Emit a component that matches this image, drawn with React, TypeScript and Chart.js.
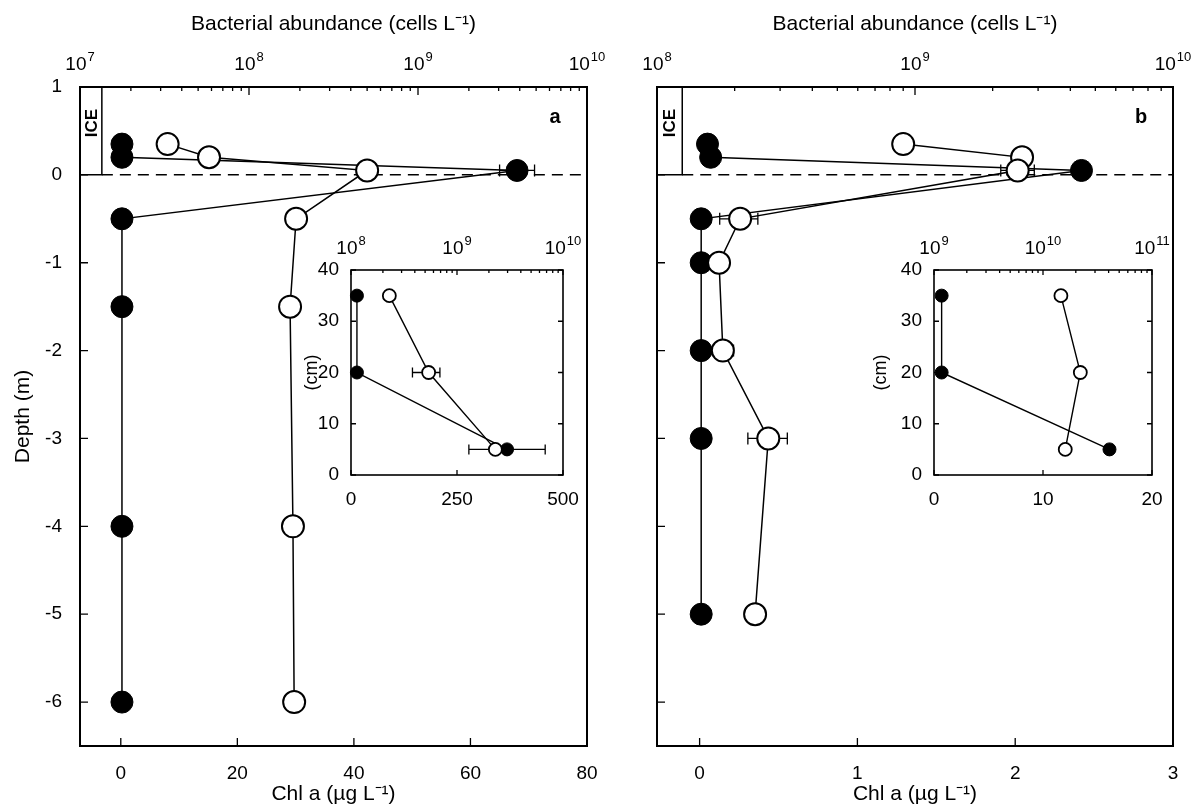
import React, { useEffect, useRef } from 'react';
import { Chart, registerables } from 'chart.js';
Chart.register(...registerables);

const FONT = '"Liberation Sans", Arial, Helvetica, sans-serif';

// ---------- Panel a (main) ----------
const A_CHL_DEPTH = [0.35, 0.2, 0.05, -0.5, -1.5, -4, -6];
const A_CHL = [0.2, 0.2, 68, 0.2, 0.2, 0.2, 0.2];
const A_CHL_LO = [null, null, 65, null, null, null, null];
const A_CHL_HI = [null, null, 71, null, null, null, null];
const A_BACT_DEPTH = [0.35, 0.2, 0.05, -0.5, -1.5, -4, -6];
const A_BACT = [3.3e7, 5.8e7, 5.0e8, 1.9e8, 1.75e8, 1.82e8, 1.85e8];
const A_BACT_LO = [null, null, null, null, null, null, null];
const A_BACT_HI = [null, null, null, null, null, null, null];
const A_CHL_RANGE = [-7, 80];
const A_CHL_TICKS = [0, 20, 40, 60, 80];
const A_BACT_RANGE = [1e7, 1e10];
const A_ICE_EDGE = -3.25;

// ---------- Panel b (main) ----------
const B_CHL_DEPTH = [0.35, 0.2, 0.05, -0.5, -1, -2, -3, -5];
const B_CHL = [0.05, 0.07, 2.42, 0.01, 0.01, 0.01, 0.01, 0.01];
const B_CHL_LO = [null, null, null, null, null, null, null, null];
const B_CHL_HI = [null, null, null, null, null, null, null, null];
const B_BACT_DEPTH = [0.35, 0.2, 0.05, -0.5, -1, -2, -3, -5];
const B_BACT = [9.0e8, 2.6e9, 2.5e9, 2.1e8, 1.74e8, 1.8e8, 2.7e8, 2.4e8];
const B_BACT_LO = [null, null, 2.15e9, 1.75e8, null, 1.65e8, 2.25e8, null];
const B_BACT_HI = [null, null, 2.9e9, 2.46e8, null, 1.98e8, 3.2e8, null];
const B_CHL_RANGE = [-0.27, 3];
const B_CHL_TICKS = [0, 1, 2, 3];
const B_BACT_RANGE = [1e8, 1e10];
const B_ICE_EDGE = -0.11;

// ---------- Shared depth axis ----------
const DEPTH_RANGE = [-6.5, 1];
const DEPTH_TICKS = [1, 0, -1, -2, -3, -4, -5, -6];

// ---------- Inset a (ice core, cm) ----------
const IA_DEPTH = [35, 20, 5];
const IA_CHL = [14, 14, 368];
const IA_CHL_LO = [null, null, 278];
const IA_CHL_HI = [null, null, 458];
const IA_BACT = [2.3e8, 5.4e8, 2.3e9];
const IA_BACT_LO = [2.1e8, 3.8e8, 2.15e9];
const IA_BACT_HI = [2.5e8, 6.9e8, 2.5e9];
const IA_CHL_RANGE = [0, 500];
const IA_CHL_TICKS = [0, 250, 500];
const IA_BACT_RANGE = [1e8, 1e10];

// ---------- Inset b (ice core, cm) ----------
const IB_DEPTH = [35, 20, 5];
const IB_CHL = [0.7, 0.7, 16.1];
const IB_BACT = [1.46e10, 2.2e10, 1.6e10];
const IB_NONE = [null, null, null];
const IB_CHL_RANGE = [0, 20];
const IB_CHL_TICKS = [0, 10, 20];
const IB_BACT_RANGE = [1e9, 1e11];

const INSET_DEPTH_RANGE = [0, 40];
const INSET_DEPTH_TICKS = [0, 10, 20, 30, 40];

const isPow10 = (v: number) => Math.abs(Math.log10(v) - Math.round(Math.log10(v))) < 1e-9;
const logTicks = (min: number, max: number) => {
  const out: number[] = [];
  const e0 = Math.round(Math.log10(min));
  const e1 = Math.round(Math.log10(max));
  for (let e = e0; e < e1; e++) for (let m = 1; m < 10; m++) out.push(m * Math.pow(10, e));
  out.push(max);
  return out;
};

interface Cfg {
  chlDepth: number[]; chl: number[]; chlLo: (number | null)[]; chlHi: (number | null)[];
  bactDepth: number[]; bact: number[]; bactLo: (number | null)[]; bactHi: (number | null)[];
  chlRange: number[]; chlTicks: number[]; bactRange: number[];
  depthRange: number[]; depthTicks: number[];
  yWidth: number; topH: number; bottomH: number; padRight: number;
  showYLabels: boolean; yTitle: string; xTitle: string; x2Title: string;
  tickFont: number; titleFont: number;
  yLabelPad: number; xLabelPad: number; x2Baseline: number;
  yTitlePad: number; xTitlePad: number; x2TitlePad: number;
  radius: number; ptBorder: number; lineW: number; majLen: number; minLen: number; capH: number;
  frameW: number; mirrorY: boolean; inset: boolean; ice: number | null; letter: string;
}

function buildChart(canvas: HTMLCanvasElement, c: Cfg) {
  const mk = (depth: number[], vals: number[]) => vals.map((v, i) => ({ x: v, y: depth[i] }));
  const chlPts = mk(c.chlDepth, c.chl);
  const bactPts = mk(c.bactDepth, c.bact);
  const datasets: any[] = [
    { data: bactPts, xAxisID: 'x2', yAxisID: 'y', showLine: false, pointRadius: c.radius,
      pointHoverRadius: c.radius, pointBackgroundColor: '#fff', pointBorderColor: '#000',
      pointBorderWidth: c.ptBorder, clip: false },
    { data: chlPts, xAxisID: 'x', yAxisID: 'y', showLine: false, pointRadius: c.radius,
      pointHoverRadius: c.radius, pointBackgroundColor: '#000', pointBorderColor: '#000',
      pointBorderWidth: 1, clip: false },
    { data: bactPts, xAxisID: 'x2', yAxisID: 'y', showLine: true, pointRadius: 0,
      borderColor: '#000', borderWidth: c.lineW, tension: 0 },
    { data: chlPts, xAxisID: 'x', yAxisID: 'y', showLine: true, pointRadius: 0,
      borderColor: '#000', borderWidth: c.lineW, tension: 0 },
  ];
  if (c.ice !== null) {
    datasets.push({ data: [{ x: c.ice, y: 0 }, { x: c.chlRange[1], y: 0 }], xAxisID: 'x', yAxisID: 'y',
      showLine: true, pointRadius: 0, borderColor: '#000', borderWidth: 1.5, borderDash: [11, 7] });
    datasets.push({ data: [{ x: c.chlRange[0], y: 0 }, { x: c.ice, y: 0 }, { x: c.ice, y: c.depthRange[1] }],
      xAxisID: 'x', yAxisID: 'y', showLine: true, pointRadius: 0, borderColor: '#000', borderWidth: 1.5 });
  }

  const decoPlugin = {
    id: 'deco',
    beforeDatasetsDraw(chart: any) {
      const ctx = chart.ctx;
      const { left, right, top, bottom } = chart.chartArea;
      ctx.save();
      if (c.inset) {
        ctx.fillStyle = '#fff';
        ctx.fillRect(left, top, right - left, bottom - top);
      }
      ctx.strokeStyle = '#000';
      ctx.lineWidth = 1.3;
      const ys = chart.scales.y;
      const drawSet = (axis: string, depth: number[], lo: (number | null)[], hi: (number | null)[]) => {
        const xs = chart.scales[axis];
        lo.forEach((l, i) => {
          const h = hi[i];
          if (l == null || h == null) return;
          const py = ys.getPixelForValue(depth[i]);
          const a = xs.getPixelForValue(l);
          const b = xs.getPixelForValue(h);
          ctx.beginPath();
          ctx.moveTo(a, py); ctx.lineTo(b, py);
          ctx.moveTo(a, py - c.capH); ctx.lineTo(a, py + c.capH);
          ctx.moveTo(b, py - c.capH); ctx.lineTo(b, py + c.capH);
          ctx.stroke();
        });
      };
      drawSet('x', c.chlDepth, c.chlLo, c.chlHi);
      drawSet('x2', c.bactDepth, c.bactLo, c.bactHi);
      ctx.restore();
    },
    afterDraw(chart: any) {
      const ctx = chart.ctx;
      const { left, right, top, bottom } = chart.chartArea;
      const tx = chart.scales.x, tx2 = chart.scales.x2, ty = chart.scales.y;
      ctx.save();
      ctx.strokeStyle = '#000';
      ctx.lineWidth = c.frameW;
      ctx.strokeRect(left, top, right - left, bottom - top);
      ctx.lineWidth = 1.3;
      ctx.beginPath();
      tx.ticks.forEach((t: any) => {
        const p = tx.getPixelForValue(t.value);
        ctx.moveTo(p, bottom); ctx.lineTo(p, bottom - c.majLen);
      });
      tx2.ticks.forEach((t: any) => {
        const p = tx2.getPixelForValue(t.value);
        const len = isPow10(t.value) ? c.majLen : c.minLen;
        ctx.moveTo(p, top); ctx.lineTo(p, top + len);
      });
      ty.ticks.forEach((t: any) => {
        const p = ty.getPixelForValue(t.value);
        ctx.moveTo(left, p); ctx.lineTo(left + c.majLen, p);
        if (c.mirrorY) { ctx.moveTo(right, p); ctx.lineTo(right - c.majLen, p); }
      });
      ctx.stroke();
      ctx.fillStyle = '#000';
      // power-of-ten labels of the top (log) axis: "10" with a raised exponent
      const baseFont = `${c.tickFont}px ${FONT}`;
      const supSize = Math.round(c.tickFont * 0.68);
      const supFont = `${supSize}px ${FONT}`;
      ctx.textBaseline = 'alphabetic';
      ctx.textAlign = 'left';
      tx2.ticks.forEach((t: any) => {
        if (!isPow10(t.value)) return;
        const p = tx2.getPixelForValue(t.value);
        const exp = String(Math.round(Math.log10(t.value)));
        ctx.font = baseFont;
        const w1 = ctx.measureText('10').width;
        ctx.font = supFont;
        const w2 = ctx.measureText(exp).width;
        const x0 = p - (w1 + w2 + 1) / 2;
        const yb = top - c.x2Baseline;
        ctx.font = baseFont;
        ctx.fillText('10', x0, yb);
        ctx.font = supFont;
        ctx.fillText(exp, x0 + w1 + 1, yb - c.tickFont * 0.45);
      });
      if (c.ice !== null) {
        const ix = tx.getPixelForValue(c.ice);
        ctx.save();
        ctx.translate((left + ix) / 2 + 1, top + 36);
        ctx.rotate(-Math.PI / 2);
        ctx.font = `bold 17px ${FONT}`;
        ctx.textAlign = 'center';
        ctx.textBaseline = 'middle';
        ctx.fillText('ICE', 0, 0);
        ctx.restore();
      }
      if (c.letter) {
        ctx.font = `bold 20px ${FONT}`;
        ctx.textAlign = 'center';
        ctx.textBaseline = 'middle';
        ctx.fillText(c.letter, right - 32, top + 30);
      }
      ctx.restore();
    },
  };

  const tickFont = { family: FONT, size: c.tickFont };
  const titleFont = { family: FONT, size: c.titleFont };
  const noPad = (s: any) => { s.paddingLeft = 0; s.paddingRight = 0; s.paddingTop = 0; s.paddingBottom = 0; };

  return new Chart(canvas, {
    type: 'scatter',
    data: { datasets },
    plugins: [decoPlugin],
    options: {
      animation: false,
      responsive: false,
      devicePixelRatio: 1,
      events: [],
      layout: { padding: { left: 0, top: 0, bottom: 0, right: c.padRight } },
      plugins: { legend: { display: false }, tooltip: { enabled: false } },
      scales: {
        x: {
          type: 'linear', position: 'bottom', min: c.chlRange[0], max: c.chlRange[1],
          afterBuildTicks: (s: any) => { s.ticks = c.chlTicks.map((v) => ({ value: v })); },
          afterFit: (s: any) => { s.height = c.bottomH; noPad(s); },
          grid: { display: false, drawTicks: false },
          border: { display: false },
          ticks: { font: tickFont, color: '#000', padding: c.xLabelPad, maxRotation: 0, autoSkip: false,
            callback: (v: any) => String(v) },
          title: { display: !!c.xTitle, text: c.xTitle, font: titleFont, color: '#000',
            padding: { top: 0, bottom: c.xTitlePad } },
        },
        x2: {
          type: 'logarithmic', position: 'top', min: c.bactRange[0], max: c.bactRange[1],
          afterBuildTicks: (s: any) => { s.ticks = logTicks(c.bactRange[0], c.bactRange[1]).map((v) => ({ value: v })); },
          afterFit: (s: any) => { s.height = c.topH; noPad(s); },
          grid: { display: false, drawTicks: false },
          border: { display: false },
          ticks: { font: tickFont, color: '#000', padding: 10, maxRotation: 0, autoSkip: false,
            callback: () => '' },
          title: { display: !!c.x2Title, text: c.x2Title, font: titleFont, color: '#000',
            padding: { top: c.x2TitlePad, bottom: 0 } },
        },
        y: {
          type: 'linear', position: 'left', min: c.depthRange[0], max: c.depthRange[1],
          afterBuildTicks: (s: any) => { s.ticks = c.depthTicks.map((v) => ({ value: v })); },
          afterFit: (s: any) => { s.width = c.yWidth; noPad(s); },
          grid: { display: false, drawTicks: false },
          border: { display: false },
          ticks: { display: c.showYLabels, font: tickFont, color: '#000', padding: c.yLabelPad, autoSkip: false,
            callback: (v: any) => String(v) },
          title: { display: !!c.yTitle, text: c.yTitle, font: titleFont, color: '#000',
            padding: { top: c.yTitlePad, bottom: 0 } },
        },
      },
    } as any,
  });
}

const MAIN_COMMON = {
  depthRange: DEPTH_RANGE, depthTicks: DEPTH_TICKS,
  topH: 87, bottomH: 62,
  xTitle: 'Chl a (\u00B5g L\u207B\u00B9)', x2Title: 'Bacterial abundance (cells L\u207B\u00B9)',
  tickFont: 19, titleFont: 21,
  yLabelPad: 18, xLabelPad: 16, x2Baseline: 17,
  yTitlePad: 11, xTitlePad: 1, x2TitlePad: 12,
  radius: 11, ptBorder: 2, lineW: 1.5, majLen: 8, minLen: 4, capH: 6,
  frameW: 2, mirrorY: false, inset: false,
};

const CFG_A: Cfg = {
  ...MAIN_COMMON,
  chlDepth: A_CHL_DEPTH, chl: A_CHL, chlLo: A_CHL_LO, chlHi: A_CHL_HI,
  bactDepth: A_BACT_DEPTH, bact: A_BACT, bactLo: A_BACT_LO, bactHi: A_BACT_HI,
  chlRange: A_CHL_RANGE, chlTicks: A_CHL_TICKS, bactRange: A_BACT_RANGE,
  yWidth: 80, padRight: 53, showYLabels: true, yTitle: 'Depth (m)',
  ice: A_ICE_EDGE, letter: 'a',
};

const CFG_B: Cfg = {
  ...MAIN_COMMON,
  chlDepth: B_CHL_DEPTH, chl: B_CHL, chlLo: B_CHL_LO, chlHi: B_CHL_HI,
  bactDepth: B_BACT_DEPTH, bact: B_BACT, bactLo: B_BACT_LO, bactHi: B_BACT_HI,
  chlRange: B_CHL_RANGE, chlTicks: B_CHL_TICKS, bactRange: B_BACT_RANGE,
  yWidth: 57, padRight: 26, showYLabels: false, yTitle: '',
  ice: B_ICE_EDGE, letter: 'b',
};

const INSET_COMMON = {
  depthRange: INSET_DEPTH_RANGE, depthTicks: INSET_DEPTH_TICKS,
  topH: 48, bottomH: 47,
  xTitle: '', x2Title: '',
  tickFont: 19, titleFont: 18,
  yLabelPad: 12, xLabelPad: 13, x2Baseline: 16,
  xTitlePad: 0, x2TitlePad: 0,
  radius: 6.5, ptBorder: 1.8, lineW: 1.4, majLen: 5, minLen: 3, capH: 5,
  frameW: 1.6, mirrorY: true, inset: true, ice: null, letter: '',
  showYLabels: true, yTitle: '(cm)',
};

const CFG_IA: Cfg = {
  ...INSET_COMMON,
  chlDepth: IA_DEPTH, chl: IA_CHL, chlLo: IA_CHL_LO, chlHi: IA_CHL_HI,
  bactDepth: IA_DEPTH, bact: IA_BACT, bactLo: IA_BACT_LO, bactHi: IA_BACT_HI,
  chlRange: IA_CHL_RANGE, chlTicks: IA_CHL_TICKS, bactRange: IA_BACT_RANGE,
  yWidth: 58, padRight: 30, yTitlePad: 8,
};

const CFG_IB: Cfg = {
  ...INSET_COMMON,
  chlDepth: IB_DEPTH, chl: IB_CHL, chlLo: IB_NONE, chlHi: IB_NONE,
  bactDepth: IB_DEPTH, bact: IB_BACT, bactLo: IB_NONE, bactHi: IB_NONE,
  chlRange: IB_CHL_RANGE, chlTicks: IB_CHL_TICKS, bactRange: IB_BACT_RANGE,
  yWidth: 64, padRight: 26, yTitlePad: 0,
};

function ChartCanvas(props: { cfg: Cfg; left: number; top: number; width: number; height: number }) {
  const ref = useRef<HTMLCanvasElement>(null);
  useEffect(() => {
    const chart = buildChart(ref.current as HTMLCanvasElement, props.cfg);
    return () => chart.destroy();
  }, []);
  const { left, top, width, height } = props;
  return (
    <canvas ref={ref} width={width} height={height}
      style={{ position: 'absolute', left, top, width, height, display: 'block' }} />
  );
}

export default function App() {
  return (
    <div style={{ position: 'fixed', left: 0, top: 0, width: 1199, height: 808, background: '#fff', overflow: 'hidden' }}>
      <ChartCanvas cfg={CFG_A} left={0} top={0} width={640} height={808} />
      <ChartCanvas cfg={CFG_B} left={600} top={0} width={599} height={808} />
      <ChartCanvas cfg={CFG_IA} left={293} top={222} width={300} height={300} />
      <ChartCanvas cfg={CFG_IB} left={870} top={222} width={308} height={300} />
    </div>
  );
}
